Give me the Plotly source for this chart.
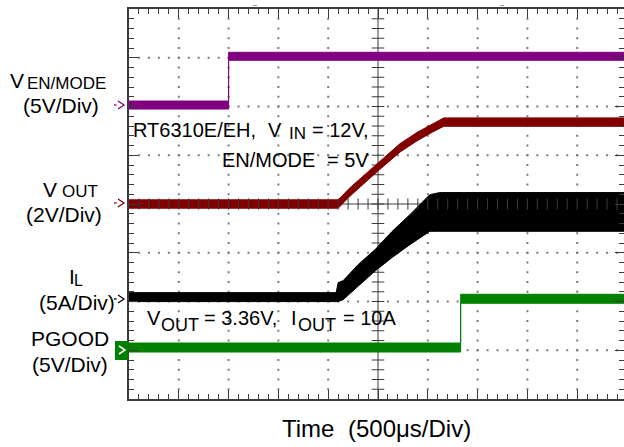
import plotly.graph_objects as go

# ---------------------------------------------------------------------------
# Start-up waveforms, 500 us per horizontal division, 8 vertical divisions
# ---------------------------------------------------------------------------

# EN/MODE pin (V), 5 V/div
EN_T = [0, 1000, 1000, 5000]
EN_V = [0, 0, 5, 5]

# Output voltage (V), 2 V/div
VOUT_T = [0, 2100, 2220, 2390, 2500, 2720, 2890, 3050, 3160, 5000]
VOUT_V = [0, 0, 0.50, 1.12, 1.53, 2.30, 2.76, 3.13, 3.36, 3.36]

# Inductor current ripple envelope (A), 5 A/div
IL_T = [0, 2080, 2100, 2150, 2300, 2470, 2640, 2820, 3020, 3120, 5000]
IL_HI = [0.46, 0.46, 1.49, 1.69, 3.33, 4.87, 6.72, 8.46, 10.51, 10.72, 10.72]
IL_LO = [-0.46, -0.46, -0.46, -0.26, 1.08, 2.67, 4.05, 5.38, 6.75, 6.75, 6.75]

# Power-good output (V), 5 V/div
PG_T = [0, 3330, 3330, 5000]
PG_V = [0, 0, 5, 5]

# channel ground offsets (divisions) and scales (units per division)
EN_OFS, EN_SCALE = 6.03, 5.0
VOUT_OFS, VOUT_SCALE = 4.0, 2.0
IL_OFS, IL_SCALE = 2.09, 5.0
PG_OFS, PG_SCALE = 1.056, 5.0

# ---------------------------------------------------------------------------
# Layout geometry
# ---------------------------------------------------------------------------
FIG_W, FIG_H = 624, 447
ML, MT, MR, MB = 129, 9, 0, 48
PW, PH = FIG_W - ML - MR, FIG_H - MT - MB
US_PER_DIV = 500
X_DIV_PX = 49.8
X_END = PW / X_DIV_PX * US_PER_DIV
Y_DIVS = 8
Y_DIV_PX = PH / Y_DIVS

AX = "#3a3a3a"
DOT = "#7a7a7a"
PURPLE = "#800080"
DKRED = "#800000"
GREEN = "#008000"
FONT = "Liberation Sans, Arial, sans-serif"


def px_x(px):
    return (px - ML) / PW


def px_y(py):
    return (MT + PH - py) / PH


def band(t, centre, half_px):
    h = half_px / Y_DIV_PX
    up = [c + h for c in centre]
    lo = [c - h for c in centre]
    return list(t) + list(t)[::-1], up + lo[::-1]


def to_div(vals, ofs, scale):
    return [ofs + v / scale for v in vals]


fig = go.Figure()

# dotted graticule
gx, gy = [], []
for k in range(1, 10):
    if k == 5:
        continue
    for j in range(1, 40):
        gx.append(k * US_PER_DIV)
        gy.append(j * 0.2)
for k in range(1, Y_DIVS):
    if k == 4:
        continue
    for j in range(1, 50):
        gx.append(j * US_PER_DIV / 5)
        gy.append(k)
fig.add_trace(go.Scatter(x=gx, y=gy, mode="markers",
                         marker=dict(symbol="square", size=2, color=DOT),
                         hoverinfo="skip"))

# centre cross-hair with minor ticks
fig.add_trace(go.Scatter(x=[5 * US_PER_DIV] * 39, y=[j * 0.2 for j in range(1, 40)],
                         mode="markers",
                         marker=dict(symbol="line-ew", size=9, line=dict(width=1, color=AX)),
                         hoverinfo="skip"))
fig.add_trace(go.Scatter(x=[j * US_PER_DIV / 5 for j in range(1, 50)], y=[4] * 49,
                         mode="markers", yaxis="y2",
                         marker=dict(symbol="line-ns", size=8, line=dict(width=1, color=AX)),
                         hoverinfo="skip"))
fig.add_shape(type="line", x0=5 * US_PER_DIV, x1=5 * US_PER_DIV, y0=0, y1=Y_DIVS,
              line=dict(color=AX, width=1), layer="below")
fig.add_shape(type="line", x0=0, x1=X_END, y0=4, y1=4,
              line=dict(color=AX, width=1), layer="below")


def add_band(xs, ys, color):
    fig.add_trace(go.Scatter(x=xs, y=ys, mode="lines", fill="toself",
                             fillcolor=color, line=dict(color=color, width=1),
                             hoverinfo="skip"))


add_band(*band(EN_T, to_div(EN_V, EN_OFS, EN_SCALE), 4.0), PURPLE)
add_band(*band(VOUT_T, to_div(VOUT_V, VOUT_OFS, VOUT_SCALE), 4.2), DKRED)
il_up = to_div(IL_HI, IL_OFS, IL_SCALE)
il_lo = to_div(IL_LO, IL_OFS, IL_SCALE)
add_band(IL_T + IL_T[::-1], il_up + il_lo[::-1], "#000000")
add_band(*band(PG_T, to_div(PG_V, PG_OFS, PG_SCALE), 4.5), GREEN)


# channel ground markers at the left edge
def chevron(xl, yc, color, dash=True, width=1.3):
    p = f"M {px_x(xl + 3)},{px_y(yc - 4)} L {px_x(xl + 9)},{px_y(yc)} L {px_x(xl + 3)},{px_y(yc + 4)}"
    fig.add_shape(type="path", path=p, xref="paper", yref="paper",
                  line=dict(color=color, width=width))
    if dash:
        fig.add_shape(type="line", xref="paper", yref="paper",
                      x0=px_x(xl - 1), x1=px_x(xl + 1.5), y0=px_y(yc), y1=px_y(yc),
                      line=dict(color=color, width=1.3))


chevron(115, 105, PURPLE)
chevron(115, 203, DKRED)
chevron(115, 299, "#000000")
fig.add_shape(type="rect", xref="paper", yref="paper",
              x0=px_x(115), x1=px_x(128.5), y0=px_y(341), y1=px_y(360),
              fillcolor=GREEN, line=dict(width=0))
chevron(116, 350, "#ffffff", dash=False, width=1.6)

# small trigger marks above the top border
for mx in (255, 502):
    fig.add_shape(type="line", xref="paper", yref="paper",
                  x0=px_x(mx - 2), x1=px_x(mx + 2), y0=px_y(5.5), y1=px_y(5.5),
                  line=dict(color="#999999", width=1))


def label(text, x, yc, size, anchor="left"):
    fig.add_annotation(text=text, x=px_x(x), y=px_y(yc), xref="paper", yref="paper",
                       xanchor=anchor, yanchor="middle", showarrow=False,
                       borderpad=0, font=dict(size=size, color="#000000", family=FONT))


MAIN, SUB = 21, 17

# channel names and scales
label("V", 9, 80.5, MAIN)
label("EN/MODE", 26, 83, SUB)
label("(5V/Div)", 61, 105, MAIN, "center")
label("V", 42, 189.5, MAIN)
label("OUT", 61, 191.5, SUB)
label("(2V/Div)", 64, 214, MAIN, "center")
label("I", 68, 276, MAIN)
label("L", 73, 280.5, 16)
label("(5A/Div)", 77, 302, MAIN, "center")
label("PGOOD", 70, 338, MAIN, "center")
label("(5V/Div)", 70, 364, MAIN, "center")

# test conditions
label("RT6310E/EH,", 132, 130, 20)
label("V", 267, 130, 20)
label("IN", 288, 133, SUB)
label("= 12V,", 311, 130, 20)
label("EN/MODE", 221, 160, 20)
label("= 5V", 326, 160, 20)
label("V", 146, 318, 20)
label("OUT", 160, 325, 18)
label("= 3.36V,", 203, 318, 20)
label("I", 290, 318, 20)
label("OUT", 297, 325, 18)
label("= 10A", 342, 318, 20)

# time base
label("Time", 281, 428, 24)
label("(500\u03bcs/Div)", 347, 428, 24)

axis_common = dict(showgrid=False, zeroline=False, showticklabels=False,
                   ticks="inside", ticklen=9, tickwidth=1, tickcolor=AX)

fig.update_layout(
    width=FIG_W, height=FIG_H,
    margin=dict(l=ML, r=MR, t=MT, b=MB),
    paper_bgcolor="#ffffff", plot_bgcolor="#ffffff",
    showlegend=False, hovermode=False,
    xaxis=dict(range=[0, X_END], tick0=0, dtick=US_PER_DIV,
               showline=True, linecolor=AX, linewidth=2, mirror="ticks",
               minor=dict(ticks="inside", dtick=US_PER_DIV / 5, ticklen=5,
                          tickwidth=1, tickcolor=AX, showgrid=False),
               **axis_common),
    yaxis=dict(range=[0, Y_DIVS], tick0=0, dtick=1,
               showline=True, linecolor=AX, linewidth=2,
               minor=dict(ticks="inside", dtick=0.2, ticklen=5,
                          tickwidth=1, tickcolor=AX, showgrid=False),
               **axis_common),
    yaxis2=dict(range=[0, Y_DIVS], overlaying="y", side="right", anchor="x",
                tick0=0, dtick=1, showline=False,
                minor=dict(ticks="inside", dtick=0.2, ticklen=5,
                           tickwidth=1, tickcolor=AX, showgrid=False),
                **axis_common),
)

fig.write_html("out.html")
